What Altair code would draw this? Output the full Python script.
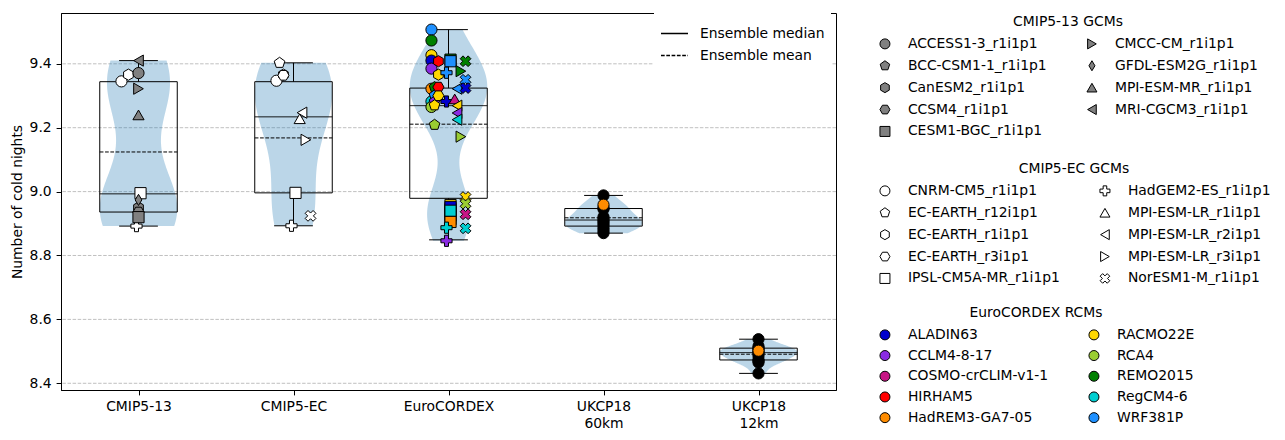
import math
import altair as alt
import numpy as np
import pandas as pd

# ---------------- data ----------------
ENSEMBLES = ["CMIP5-13", "CMIP5-EC", "EuroCORDEX", "UKCP18 60km", "UKCP18 12km"]
ENSEMBLE_LABELS = [["CMIP5-13"], ["CMIP5-EC"], ["EuroCORDEX"], ["UKCP18", "60km"], ["UKCP18", "12km"]]
Y_TICKS = [8.4, 8.6, 8.8, 9.0, 9.2, 9.4]

# box statistics (whisker low, Q1, median, mean, Q3, whisker high)
BOX_LO = [8.892, 8.893, 8.849, 8.870, 8.431]
BOX_Q1 = [8.936, 8.996, 8.979, 8.892, 8.473]
BOX_MED = [8.993, 9.234, 9.269, 8.911, 8.496]
BOX_MEAN = [9.124, 9.168, 9.211, 8.918, 8.491]
BOX_Q3 = [9.344, 9.344, 9.324, 8.947, 8.510]
BOX_HI = [9.410, 9.403, 9.507, 8.988, 8.538]

# CMIP5-13 GCMs only in that ensemble (grey markers)
GCM13_NAMES = ["ACCESS1-3_r1i1p1", "BCC-CSM1-1_r1i1p1", "CanESM2_r1i1p1", "CCSM4_r1i1p1",
               "CESM1-BGC_r1i1p1", "CMCC-CM_r1i1p1", "GFDL-ESM2G_r1i1p1", "MPI-ESM-MR_r1i1p1",
               "MRI-CGCM3_r1i1p1"]
GCM13_VALUES = [9.371, 8.930, 8.950, 8.936, 8.920, 9.322, 8.974, 9.240, 9.410]

# CMIP5-EC GCMs (white markers)
GCMEC_NAMES = ["CNRM-CM5_r1i1p1", "EC-EARTH_r12i1p1", "EC-EARTH_r1i1p1", "EC-EARTH_r3i1p1",
               "IPSL-CM5A-MR_r1i1p1", "HadGEM2-ES_r1i1p1", "MPI-ESM-LR_r1i1p1",
               "MPI-ESM-LR_r2i1p1", "MPI-ESM-LR_r3i1p1", "NorESM1-M_r1i1p1"]
GCMEC_VALUES = [9.347, 9.403, 9.366, 9.364, 8.996, 8.893, 9.228, 9.247, 9.162, 8.924]

# CMIP5-EC GCMs that are also part of CMIP5-13
EC_IN13_NAMES = ["CNRM-CM5_r1i1p1", "EC-EARTH_r1i1p1", "IPSL-CM5A-MR_r1i1p1", "HadGEM2-ES_r1i1p1"]
EC_IN13_VALUES = [9.345, 9.366, 8.995, 8.892]

RCM_NAMES = ["ALADIN63", "CCLM4-8-17", "COSMO-crCLIM-v1-1", "HIRHAM5", "HadREM3-GA7-05",
             "RACMO22E", "RCA4", "REMO2015", "RegCM4-6", "WRF381P"]

# EuroCORDEX simulations: driving GCM, RCM, value
EURO_GCM = (["CNRM-CM5_r1i1p1"] * 8 + ["EC-EARTH_r12i1p1"] * 5 + ["EC-EARTH_r1i1p1"] * 2
            + ["EC-EARTH_r3i1p1"] * 2 + ["IPSL-CM5A-MR_r1i1p1"] * 10 + ["HadGEM2-ES_r1i1p1"] * 4
            + ["MPI-ESM-LR_r1i1p1"] * 1 + ["MPI-ESM-LR_r2i1p1"] * 4 + ["MPI-ESM-LR_r3i1p1"] * 2
            + ["NorESM1-M_r1i1p1"] * 7)
EURO_RCM = ["WRF381P", "REMO2015", "RACMO22E", "ALADIN63", "CCLM4-8-17", "HadREM3-GA7-05", "RegCM4-6", "RCA4",
            "REMO2015", "WRF381P", "CCLM4-8-17", "RCA4", "RACMO22E",
            "HIRHAM5", "RACMO22E",
            "HIRHAM5", "RACMO22E",
            "REMO2015", "WRF381P", "RACMO22E", "HIRHAM5", "CCLM4-8-17", "COSMO-crCLIM-v1-1", "RCA4",
            "ALADIN63", "RegCM4-6", "HadREM3-GA7-05",
            "WRF381P", "ALADIN63", "RegCM4-6", "CCLM4-8-17",
            "COSMO-crCLIM-v1-1",
            "WRF381P", "RACMO22E", "CCLM4-8-17", "RegCM4-6",
            "REMO2015", "RCA4",
            "REMO2015", "WRF381P", "ALADIN63", "RACMO22E", "RCA4", "COSMO-crCLIM-v1-1", "RegCM4-6"]
EURO_VALUES = [9.507, 9.473, 9.427, 9.410, 9.385, 9.322, 9.282, 9.265,
               9.327, 9.301, 9.282, 9.209, 9.270,
               9.408, 9.366,
               9.327, 9.300,
               9.413, 9.408, 8.958, 8.945, 8.935, 8.925, 8.914,
               8.952, 8.940, 8.905,
               9.372, 9.282, 8.887, 8.846,
               9.290,
               9.322, 9.269, 9.246, 9.225,
               9.377, 9.172,
               9.408, 9.350, 9.324, 8.983, 8.962, 8.929, 8.885]

UK60_VALUES = [8.988, 8.959, 8.950, 8.945, 8.921, 8.914, 8.908, 8.902, 8.895, 8.886, 8.878, 8.870]
UK60_COLORS = ["black", "darkorange"] + ["black"] * 10
UK12_VALUES = [8.538, 8.516, 8.510, 8.506, 8.502, 8.498, 8.494, 8.486, 8.474, 8.470, 8.465, 8.431]
UK12_COLORS = ["black"] * 4 + ["darkorange"] + ["black"] * 7

# ---------------- styles ----------------
RCM_COLORS = ["#0000cd", "#8a2be2", "#c71585", "#ff0000", "#ff8c00",
              "#ffd700", "#9acd32", "#008000", "#00ced1", "#1e90ff"]


def poly(pts):
    return "M" + " L".join(f"{x:.3f},{y:.3f}" for x, y in pts) + " Z"


def ngon(n, start_deg):
    return poly([(math.cos(math.radians(start_deg + 360 * k / n)),
                  math.sin(math.radians(start_deg + 360 * k / n))) for k in range(n)])


a = 0.36
PLUS_PTS = [(-a, -1), (a, -1), (a, -a), (1, -a), (1, a), (a, a), (a, 1), (-a, 1), (-a, a), (-1, a), (-1, -a), (-a, -a)]
SHP_PENT = ngon(5, -90)
SHP_HEX = ngon(6, -90)
SHP_HEX2 = ngon(6, 0)
SHP_DIAM = poly([(0, -1), (0.6, 0), (0, 1), (-0.6, 0)])
SHP_PLUS = poly(PLUS_PTS)
SHP_X = poly([((x - y) / math.sqrt(2), (x + y) / math.sqrt(2)) for x, y in PLUS_PTS])

GCM13_SHAPES = ["circle", SHP_PENT, SHP_HEX, SHP_HEX2, "square", "triangle-right", SHP_DIAM,
                "triangle-up", "triangle-left"]
GCMEC_SHAPES = ["circle", SHP_PENT, SHP_HEX, SHP_HEX2, "square", SHP_PLUS, "triangle-up",
                "triangle-left", "triangle-right", SHP_X]
# horizontal jitter (in category units) per driving GCM
GCMEC_XOFF = [-0.11, -0.09, -0.065, -0.065, 0.013, -0.013, 0.04, 0.055, 0.08, 0.11]

# ---------------- tables ----------------
XC = {e: i + 1 for i, e in enumerate(ENSEMBLES)}
ECOFF = dict(zip(GCMEC_NAMES, GCMEC_XOFF))

df13 = pd.DataFrame({"model": GCM13_NAMES, "value": GCM13_VALUES, "x": XC["CMIP5-13"]})

ec_rows = []
for n, v in zip(EC_IN13_NAMES, EC_IN13_VALUES):
    ec_rows.append({"gcm": n, "rcm": "", "value": v, "x": XC["CMIP5-13"] + ECOFF[n]})
for n, v in zip(GCMEC_NAMES, GCMEC_VALUES):
    ec_rows.append({"gcm": n, "rcm": "", "value": v, "x": XC["CMIP5-EC"] + ECOFF[n]})
for g, r, v in zip(EURO_GCM, EURO_RCM, EURO_VALUES):
    ec_rows.append({"gcm": g, "rcm": r, "value": v, "x": XC["EuroCORDEX"] + ECOFF[g]})
dfec = pd.DataFrame(ec_rows)

uk_rows = []
for v, c in zip(UK60_VALUES, UK60_COLORS):
    uk_rows.append({"value": v, "col": c, "x": XC["UKCP18 60km"], "z": int(c != "black")})
for v, c in zip(UK12_VALUES, UK12_COLORS):
    uk_rows.append({"value": v, "col": c, "x": XC["UKCP18 12km"], "z": int(c != "black")})
dfuk = pd.DataFrame(uk_rows)

ENS_VALUES = {
    "CMIP5-13": GCM13_VALUES + EC_IN13_VALUES,
    "CMIP5-EC": GCMEC_VALUES,
    "EuroCORDEX": EURO_VALUES,
    "UKCP18 60km": UK60_VALUES,
    "UKCP18 12km": UK12_VALUES,
}
dfall = pd.DataFrame([{"ens": e, "xc": XC[e], "value": v} for e in ENSEMBLES for v in ENS_VALUES[e]])

dfbox = pd.DataFrame({"ens": ENSEMBLES, "xc": [XC[e] for e in ENSEMBLES], "lo": BOX_LO, "q1": BOX_Q1,
                      "med": BOX_MED, "mean": BOX_MEAN, "q3": BOX_Q3, "hi": BOX_HI})
dfgrid = pd.DataFrame({"y": Y_TICKS})

# ---------------- scales / axes ----------------
FS = 13.9
xs = alt.Scale(domain=[0.5, 5.5], nice=False, zero=False)
ys = alt.Scale(domain=[8.379, 9.559], nice=False, zero=False)
label_expr = "[" + ",".join("[" + ",".join(f"'{s}'" for s in lab) + "]" for lab in ENSEMBLE_LABELS) + "][datum.value - 1]"
xaxis = alt.Axis(values=[1, 2, 3, 4, 5], labelExpr=label_expr, title=None, tickSize=4.9, labelPadding=4.9,
                 labelFontSize=FS, labelColor="black", tickColor="black", domainColor="black",
                 grid=False, labelAngle=0, labelBaseline="top", labelLineHeight=17)
yaxis = alt.Axis(values=Y_TICKS, format=".1f", title="Number of cold nights", titleFontSize=FS,
                 titleFontWeight="normal", titleColor="black", titlePadding=5, labelFontSize=FS,
                 tickSize=4.9, labelPadding=4.9, grid=False, labelColor="black", tickColor="black",
                 domainColor="black")


def X(f):
    return alt.X(f, scale=xs, axis=xaxis)


def Y(f):
    return alt.Y(f, scale=ys, axis=yaxis)


# ---------------- layers ----------------
grid = alt.Chart(dfgrid).mark_rule(stroke="#b0b0b0", strokeWidth=0.8, strokeDash=[3.5, 1.6]).encode(y=Y("y:Q"))

violins = []
for e in ENSEMBLES:
    vals = np.array(ENS_VALUES[e])
    bw = float(np.std(vals, ddof=1) * len(vals) ** -0.2)
    v = alt.Chart(dfall).transform_filter(alt.datum.ens == e).transform_density(
        "value", as_=["value", "density"], bandwidth=bw, extent=[float(vals.min()), float(vals.max())],
        steps=100, groupby=["ens", "xc"]
    ).transform_joinaggregate(dmax="max(density)").transform_calculate(
        left="datum.xc - 0.25 * datum.density / datum.dmax",
        right="datum.xc + 0.25 * datum.density / datum.dmax",
    ).mark_area(orient="horizontal", fill="#1f77b4", fillOpacity=0.3).encode(
        y=Y("value:Q"), x=X("left:Q"), x2="right:Q")
    violins.append(v)

boxbase = alt.Chart(dfbox).transform_calculate(
    xl="datum.xc - 0.25", xr="datum.xc + 0.25", cl="datum.xc - 0.125", cr="datum.xc + 0.125")
rect = boxbase.mark_rect(fill="transparent", stroke="black", strokeWidth=1).encode(
    x=X("xl:Q"), x2="xr:Q", y=Y("q1:Q"), y2="q3:Q")
wh_hi = boxbase.mark_rule(color="black", strokeWidth=1).encode(x=X("xc:Q"), y=Y("q3:Q"), y2="hi:Q")
wh_lo = boxbase.mark_rule(color="black", strokeWidth=1).encode(x=X("xc:Q"), y=Y("q1:Q"), y2="lo:Q")
cap_hi = boxbase.mark_rule(color="black", strokeWidth=1).encode(x=X("cl:Q"), x2="cr:Q", y=Y("hi:Q"))
cap_lo = boxbase.mark_rule(color="black", strokeWidth=1).encode(x=X("cl:Q"), x2="cr:Q", y=Y("lo:Q"))

leg_line = alt.Legend(title=None, orient="none", legendX=593, legendY=0, symbolType="stroke",
                      symbolSize=729, symbolStrokeWidth=1.3, symbolStrokeColor="black",
                      labelFontSize=FS, labelOffset=11, padding=6, rowPadding=0, fillColor="white")
medmean = boxbase.transform_fold(["med", "mean"], as_=["stat", "val"]).transform_calculate(
    lab="datum.stat == 'med' ? 'Ensemble median' : 'Ensemble mean'"
).mark_rule(color="black", strokeWidth=1).encode(
    x=X("xl:Q"), x2="xr:Q", y=Y("val:Q"),
    strokeDash=alt.StrokeDash("lab:N", scale=alt.Scale(domain=["Ensemble median", "Ensemble mean"],
                                                        range=[[1, 0], [3.7, 1.6]]), legend=leg_line))


def grid_legend(title, y, row_pad):
    return dict(title=title, orient="none", legendX=817, legendY=y, columns=2, direction="vertical",
                symbolSize=100, symbolStrokeWidth=1, labelFontSize=FS,
                titleFontSize=FS, titleFontWeight="normal", titleAnchor="middle", labelOffset=16,
                columnPadding=37, rowPadding=row_pad, titlePadding=8, padding=0, symbolOpacity=1)


leg13 = alt.Legend(**grid_legend("CMIP5-13 GCMs", 2, 6.9))
legec = alt.Legend(**grid_legend("CMIP5-EC GCMs", 149, 6.9))
legrcm = alt.Legend(symbolType="circle", **grid_legend("EuroCORDEX RCMs", 293, 5.7))

MS = 125
ec_pts = alt.Chart(dfec).mark_point(filled=True, stroke="black", strokeWidth=1, size=MS, opacity=1).encode(
    x=X("x:Q"), y=Y("value:Q"),
    shape=alt.Shape("gcm:N", scale=alt.Scale(domain=GCMEC_NAMES, range=GCMEC_SHAPES), legend=legec),
    fill=alt.condition("datum.rcm == ''", alt.value("white"),
                       alt.Fill("rcm:N", scale=alt.Scale(domain=RCM_NAMES, range=RCM_COLORS), legend=legrcm)),
)
g13_pts = alt.Chart(df13).mark_point(filled=True, fill="gray", stroke="black", strokeWidth=1, size=MS,
                                     opacity=1).encode(
    x=X("x:Q"), y=Y("value:Q"),
    shape=alt.Shape("model:N", scale=alt.Scale(domain=GCM13_NAMES, range=GCM13_SHAPES), legend=leg13),
)
uk_pts = alt.Chart(dfuk).mark_point(filled=True, shape="circle", stroke="black", strokeWidth=1, size=MS,
                                    opacity=1).encode(
    x=X("x:Q"), y=Y("value:Q"),
    fill=alt.Fill("col:N", scale=None), order=alt.Order("z:Q"),
)

chart = alt.layer(grid, *violins, rect, wh_hi, wh_lo, cap_hi, cap_lo, medmean, ec_pts, g13_pts, uk_pts).resolve_scale(
    shape="independent", fill="independent", strokeDash="independent"
).properties(
    width=775, height=377,
    autosize=alt.AutoSizeParams(type="none"),
    padding={"left": 61, "top": 13, "right": 449, "bottom": 50},
).configure(font="DejaVu Sans").configure_view(stroke="black", strokeWidth=1).configure_legend(
    labelColor="black", titleColor="black", labelFont="DejaVu Sans", titleFont="DejaVu Sans")

chart.save("out.html", embed_options={"renderer": "svg", "actions": False})
